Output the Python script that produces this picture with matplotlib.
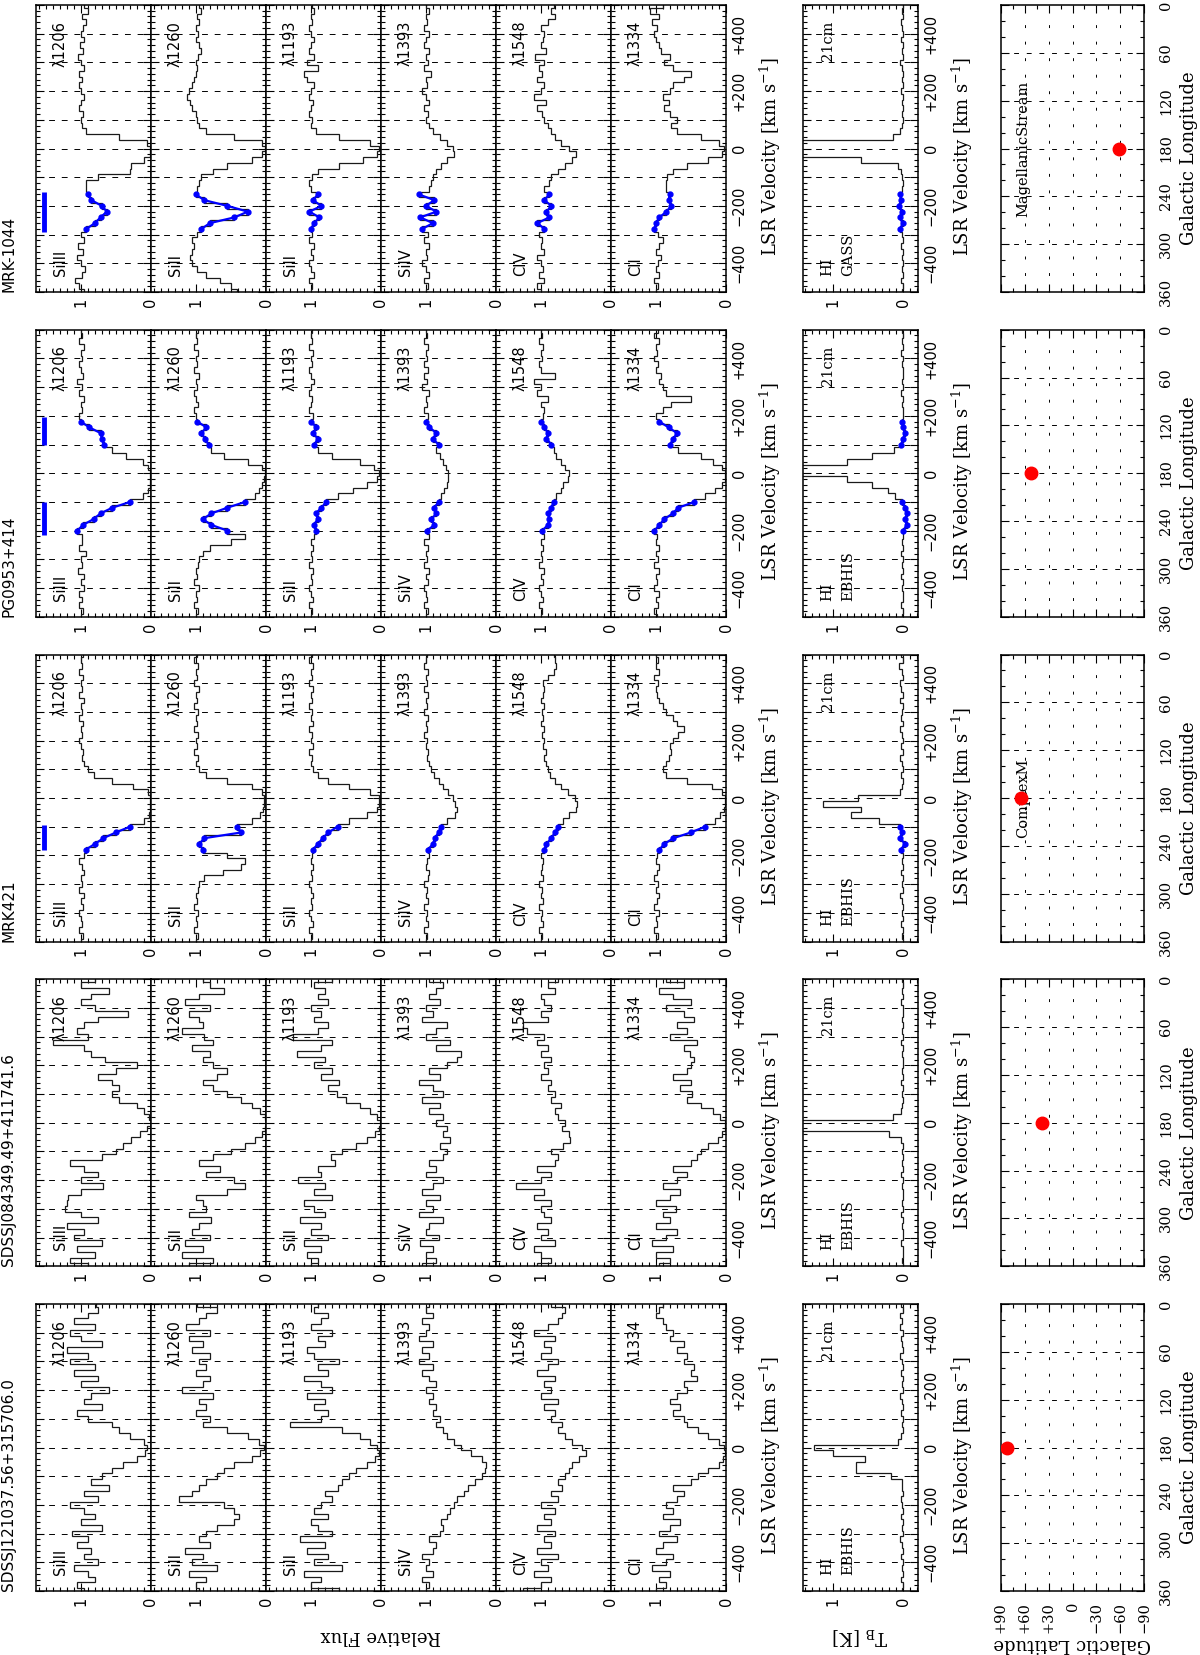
import numpy as np
import matplotlib
matplotlib.use("Agg")
import matplotlib.pyplot as plt
from matplotlib.ticker import MultipleLocator, FuncFormatter

# ---------------------------------------------------------------- data
QSO_NAMES = ["SDSSJ121037.56+315706.0", "SDSSJ084349.49+411741.6",
             "MRK421", "PG0953+414", "MRK-1044"]
GAL_LAT = [82, 38, 65, 52, -59]
GAL_LON = [180, 180, 180, 180, 180]
MAP_TEXT = ["", "", "ComplexM", "", "MagellanicStream"]
HI_SURVEY = ["EBHIS", "EBHIS", "EBHIS", "EBHIS", "GASS"]
ION_NAMES = ["SiIII", "SiII", "SiII", "SiIV", "CIV", "CII"]
ION_WAVES = ["λ1206", "λ1260", "λ1193", "λ1393", "λ1548", "λ1334"]
HVC_RANGES = [[], [], [(-180, -95)], [(100, 195), (-215, -100)], [(-290, -150)]]

VEL = [-500, -480, -460, -440, -420, -400, -380, -360, -340, -320,
       -300, -280, -260, -240, -220, -200, -180, -160, -140, -120,
       -100, -80, -60, -40, -20, 0, 20, 40, 60, 80,
       100, 120, 140, 160, 180, 200, 220, 240, 260, 280,
       300, 320, 340, 360, 380, 400, 420, 440, 460, 480, 500]

# ---- SDSSJ121037.56+315706.0
S1210_SIIII = [0.95, 1.05, 0.80, 0.90, 1.10, 0.75, 0.95, 0.85, 1.05, 0.90,
               1.12, 0.70, 1.00, 0.80, 0.95, 1.15, 0.75, 0.95, 0.60, 0.85,
               0.70, 0.55, 0.40, 0.20, 0.08, 0.05, 0.10, 0.30, 0.45, 0.55,
               0.90, 1.05, 0.70, 0.95, 0.85, 0.60, 1.00, 0.75, 1.10, 0.80,
               1.15, 0.90, 1.20, 0.70, 1.00, 1.15, 0.80, 1.10, 0.90, 0.75, 0.78]
S1210_SIII60 = [0.95, 1.00, 0.85, 1.10, 0.70, 1.05, 0.90, 1.15, 0.80, 0.95,
                0.85, 0.70, 0.45, 0.38, 0.45, 0.60, 1.24, 1.05, 0.95, 0.85,
                0.70, 0.60, 0.45, 0.20, 0.08, 0.03, 0.10, 0.25, 0.55, 0.90,
                0.80, 1.00, 0.85, 0.95, 0.75, 1.20, 0.90, 0.80, 1.00, 0.85,
                0.95, 0.80, 1.05, 0.90, 1.10, 0.80, 1.14, 0.95, 0.85, 0.70, 0.98]
S1210_SIII93 = [0.60, 1.00, 0.85, 1.10, 0.55, 0.95, 0.75, 1.05, 0.80, 1.15,
                0.70, 0.90, 1.00, 0.75, 0.95, 0.85, 0.70, 0.80, 0.62, 0.55,
                0.45, 0.35, 0.20, 0.08, 0.03, 0.05, 0.15, 0.30, 0.55, 1.30,
                0.85, 0.75, 0.95, 0.80, 1.05, 0.70, 0.85, 1.10, 0.75, 0.90,
                0.60, 0.95, 1.05, 0.80, 0.90, 0.70, 1.00, 0.85, 0.75, 0.95, 0.90]
S1210_SIIV = [1.00, 0.95, 1.05, 0.90, 1.00, 0.95, 1.05, 0.90, 0.85, 0.95,
              0.80, 0.75, 0.78, 0.70, 0.65, 0.60, 0.55, 0.45, 0.40, 0.30,
              0.20, 0.15, 0.14, 0.20, 0.35, 0.50, 0.60, 0.70, 0.75, 0.85,
              0.80, 0.90, 0.85, 0.95, 0.90, 1.00, 0.85, 0.95, 1.05, 0.90,
              1.10, 0.95, 1.05, 0.90, 1.10, 1.00, 0.95, 1.05, 0.90, 1.00, 0.95]
S1210_CIV = [1.25, 1.00, 0.85, 1.10, 0.90, 1.00, 0.75, 1.05, 0.85, 0.95,
             0.80, 1.05, 0.85, 0.95, 0.80, 1.00, 0.75, 0.85, 0.70, 0.75,
             0.65, 0.60, 0.55, 0.45, 0.36, 0.42, 0.55, 0.65, 0.75, 0.70,
             0.85, 0.80, 0.95, 0.75, 1.00, 0.85, 0.95, 0.80, 1.05, 0.90,
             0.75, 1.00, 0.85, 0.95, 0.80, 1.10, 0.90, 0.75, 0.70, 0.65, 0.85]
S1210_CII = [1.00, 0.85, 0.95, 0.80, 1.05, 0.85, 0.75, 1.00, 0.90, 0.70,
             0.95, 0.80, 0.65, 0.90, 0.75, 0.85, 0.70, 0.60, 0.75, 0.50,
             0.40, 0.25, 0.10, 0.04, 0.02, 0.03, 0.10, 0.25, 0.40, 0.55,
             0.60, 0.75, 0.65, 0.80, 0.70, 0.55, 0.60, 0.42, 0.50, 0.45,
             0.60, 0.55, 0.70, 0.60, 0.80, 0.75, 0.85, 0.90, 1.00, 0.95, 0.90]
S1210_HI = [0.02, 0.00, 0.03, 0.01, 0.02, 0.00, 0.03, 0.01, 0.02, 0.04,
            0.00, 0.02, 0.01, 0.03, 0.00, 0.02, 0.03, 0.01, 0.02, 0.02,
            0.17, 0.67, 0.67, 0.55, 1.00, 1.28, 0.08, 0.03, 0.01, 0.02,
            0.00, 0.03, 0.01, 0.02, 0.04, 0.01, 0.02, 0.00, 0.03, 0.01,
            0.02, 0.04, 0.00, 0.02, 0.03, 0.01, 0.04, 0.02, 0.05, 0.01, 0.03]

# ---- SDSSJ084349.49+411741.6
S0843_SIIII = [0.90, 1.15, 0.80, 1.05, 0.70, 1.10, 0.95, 1.20, 0.75, 1.00,
               1.22, 1.20, 1.18, 1.00, 0.68, 1.00, 0.75, 0.95, 1.15, 0.70,
               0.50, 0.40, 0.28, 0.15, 0.05, 0.00, 0.03, 0.10, 0.20, 0.45,
               0.55, 0.45, 0.55, 0.75, 0.50, 0.20, 0.65, 0.85, 0.95, 1.40,
               0.90, 1.05, 0.95, 0.75, 0.33, 0.80, 1.00, 0.85, 0.60, 1.00, 0.80]
S0843_SIII60 = [1.10, 0.75, 1.20, 0.90, 1.15, 0.80, 1.05, 0.95, 0.78, 1.10,
                0.85, 0.90, 1.00, 0.55, 0.30, 0.45, 0.85, 0.65, 0.95, 0.75,
                0.50, 0.30, 0.15, 0.05, 0.02, 0.00, 0.02, 0.08, 0.20, 0.35,
                0.55, 0.75, 0.90, 0.70, 0.55, 0.75, 0.90, 0.80, 1.05, 0.75,
                0.88, 1.20, 0.90, 0.95, 1.10, 0.80, 1.15, 0.95, 0.60, 0.80, 0.90]
S0843_SIII93 = [1.00, 0.90, 1.05, 0.85, 1.10, 0.75, 1.00, 0.85, 1.15, 0.80,
                0.95, 1.10, 0.70, 0.95, 0.80, 1.19, 0.85, 0.90, 0.65, 0.72,
                0.55, 0.35, 0.20, 0.08, 0.03, 0.02, 0.05, 0.15, 0.30, 0.50,
                0.63, 0.75, 0.60, 0.85, 0.70, 0.95, 0.80, 1.20, 0.85, 0.70,
                1.25, 0.90, 0.75, 0.95, 0.85, 1.00, 0.75, 0.90, 0.80, 0.95, 0.70]
S0843_SIIV = [1.05, 0.85, 1.00, 0.90, 1.08, 0.82, 1.00, 0.95, 0.75, 1.10,
              0.90, 1.00, 0.80, 1.05, 0.90, 0.75, 1.00, 0.85, 0.95, 0.75,
              0.70, 0.80, 0.65, 0.75, 0.70, 0.85, 0.75, 0.95, 0.80, 1.05,
              0.75, 0.90, 1.10, 0.80, 0.95, 0.70, 0.55, 0.50, 0.85, 0.65,
              1.00, 0.85, 0.70, 1.05, 0.90, 1.00, 0.80, 0.95, 0.85, 0.75, 0.95]
S0843_CIV = [1.05, 0.85, 1.00, 1.10, 0.80, 1.00, 0.90, 1.05, 0.85, 0.95,
             1.00, 0.85, 1.10, 0.95, 1.35, 1.00, 0.85, 1.05, 0.80, 0.75,
             0.85, 0.68, 0.58, 0.60, 0.70, 0.65, 0.75, 0.80, 0.72, 0.85,
             0.80, 0.90, 0.85, 1.00, 0.90, 0.95, 0.85, 1.00, 0.90, 1.05,
             0.95, 1.20, 1.25, 0.90, 1.00, 0.85, 0.95, 1.00, 0.80, 0.90, 0.75]
S0843_CII = [0.95, 0.80, 1.00, 0.75, 1.05, 0.85, 0.70, 1.00, 0.80, 0.90,
             0.72, 1.00, 0.80, 0.65, 0.90, 0.70, 0.55, 0.75, 0.50, 0.42,
             0.35, 0.25, 0.12, 0.05, 0.02, 0.02, 0.08, 0.18, 0.35, 0.55,
             0.48, 0.65, 0.50, 0.75, 0.55, 0.50, 0.45, 0.52, 0.60, 0.42,
             0.80, 0.55, 0.70, 0.45, 0.60, 0.85, 0.50, 0.75, 0.95, 0.60, 0.85]
S0843_HI = [0.01, 0.02, 0.00, 0.01, 0.03, 0.01, 0.00, 0.02, 0.01, 0.03,
            0.00, 0.02, 0.01, 0.00, 0.02, 0.01, 0.03, 0.00, 0.02, 0.01,
            0.02, 0.01, 0.03, 0.20, 1.60, 1.60, 0.15, 0.03, 0.02, 0.00,
            0.02, 0.01, 0.03, 0.00, 0.02, 0.01, 0.00, 0.02, 0.01, 0.03,
            0.00, 0.02, 0.01, 0.02, 0.00, 0.01, 0.03, 0.00, 0.02, 0.01, 0.02]

# ---- MRK421
M421_SIIII = [1.00, 0.97, 1.02, 0.98, 1.00, 1.03, 0.97, 1.00, 0.95, 1.02,
              0.98, 1.00, 0.96, 0.98, 1.02, 0.95, 0.93, 0.80, 0.68, 0.50,
              0.30, 0.10, 0.03, 0.02, 0.02, 0.02, 0.04, 0.25, 0.55, 0.82,
              0.90, 0.95, 0.98, 0.97, 1.00, 1.02, 0.98, 1.00, 0.97, 1.02,
              0.98, 1.00, 0.96, 1.03, 0.98, 1.00, 0.97, 1.02, 0.98, 1.00, 0.97]
M421_SIII60 = [1.00, 0.97, 1.02, 0.98, 1.00, 0.97, 1.02, 0.98, 1.00, 0.97,
               0.95, 0.88, 0.62, 0.35, 0.30, 0.55, 0.90, 0.95, 0.88, 0.35,
               0.42, 0.20, 0.08, 0.04, 0.03, 0.03, 0.05, 0.20, 0.55, 0.85,
               0.95, 1.00, 0.97, 1.02, 0.98, 1.00, 0.97, 1.03, 0.98, 1.00,
               0.97, 1.02, 0.98, 1.00, 0.96, 1.02, 0.98, 1.00, 0.97, 1.02, 0.98]
M421_SIII93 = [1.00, 0.98, 1.02, 0.97, 1.00, 1.02, 0.98, 1.00, 0.97, 1.00,
               1.02, 0.98, 1.00, 0.97, 1.00, 0.98, 0.97, 0.90, 0.83, 0.75,
               0.62, 0.45, 0.20, 0.06, 0.03, 0.03, 0.15, 0.45, 0.75, 0.90,
               0.97, 1.00, 0.98, 1.02, 0.97, 1.00, 0.98, 1.02, 0.97, 1.00,
               0.98, 1.02, 0.98, 1.00, 0.97, 1.02, 0.98, 1.00, 0.97, 1.02, 0.98]
M421_SIIV = [1.00, 0.98, 1.02, 0.97, 1.00, 0.98, 1.02, 0.97, 1.00, 0.98,
             1.02, 0.97, 0.95, 1.00, 0.98, 0.95, 0.97, 0.90, 0.87, 0.82,
             0.78, 0.70, 0.58, 0.55, 0.58, 0.62, 0.68, 0.75, 0.82, 0.88,
             0.92, 0.95, 0.98, 0.97, 1.00, 0.98, 1.02, 0.98, 1.00, 0.97,
             1.02, 0.98, 1.00, 0.97, 1.02, 0.98, 1.00, 0.97, 1.02, 1.00, 0.98]
M421_CIV = [1.00, 0.98, 1.02, 0.97, 1.00, 0.98, 1.02, 0.97, 1.00, 0.98,
            1.02, 0.97, 1.00, 0.98, 0.97, 1.00, 0.95, 0.92, 0.85, 0.80,
            0.75, 0.68, 0.60, 0.50, 0.48, 0.52, 0.62, 0.72, 0.80, 0.87,
            0.90, 0.92, 0.95, 0.93, 0.97, 0.95, 0.98, 0.96, 1.00, 0.97,
            0.98, 0.95, 1.00, 0.97, 0.95, 0.97, 0.90, 0.82, 0.78, 0.80, 0.82]
M421_CII = [1.00, 0.97, 1.02, 0.98, 1.00, 0.96, 1.02, 0.98, 0.95, 1.00,
            0.97, 1.02, 0.98, 0.96, 1.00, 0.98, 0.95, 0.88, 0.75, 0.50,
            0.30, 0.15, 0.08, 0.03, 0.02, 0.01, 0.05, 0.20, 0.55, 0.85,
            0.90, 0.85, 0.82, 0.78, 0.80, 0.75, 0.68, 0.60, 0.70, 0.75,
            0.85, 0.90, 0.95, 0.98, 1.00, 0.97, 1.02, 0.95, 1.00, 0.97, 1.00]
M421_HI = [0.01, 0.02, 0.00, 0.03, 0.01, 0.02, 0.00, 0.02, 0.04, 0.01,
           0.02, 0.00, 0.03, 0.01, 0.02, 0.00, 0.03, -0.02, 0.04, 0.02,
           0.05, 0.35, 0.75, 0.60, 1.15, 0.65, 0.05, 0.02, 0.01, 0.03,
           0.00, 0.02, 0.04, 0.01, 0.03, 0.00, 0.02, 0.05, 0.01, 0.03,
           0.02, 0.00, 0.04, 0.01, 0.03, 0.05, 0.00, 0.02, 0.06, 0.01, 0.03]

# ---- PG0953+414
PG_SIIII = [1.00, 0.97, 1.03, 0.98, 1.02, 0.96, 1.00, 0.95, 1.04, 0.98,
            1.00, 0.93, 1.02, 0.98, 0.99, 1.05, 0.97, 0.82, 0.72, 0.55,
            0.30, 0.12, 0.04, 0.02, 0.01, 0.02, 0.04, 0.12, 0.35, 0.55,
            0.67, 0.70, 0.72, 0.88, 1.00, 1.03, 0.98, 1.00, 0.95, 1.02,
            0.98, 1.05, 0.97, 1.00, 1.03, 0.98, 1.00, 0.95, 1.02, 0.98, 1.00]
PG_SIII60 = [1.00, 0.97, 1.02, 0.98, 1.00, 0.95, 1.02, 0.98, 1.00, 0.97,
             0.95, 0.90, 0.80, 0.50, 0.30, 0.55, 0.78, 0.90, 0.78, 0.55,
             0.30, 0.15, 0.10, 0.05, 0.03, 0.02, 0.05, 0.25, 0.60, 0.78,
             0.82, 0.87, 0.92, 0.85, 0.98, 1.00, 1.02, 0.97, 1.00, 1.03,
             0.98, 1.00, 0.95, 1.02, 0.98, 1.00, 0.97, 1.03, 0.98, 1.00, 0.97]
PG_SIII93 = [1.00, 0.98, 1.02, 0.97, 1.00, 1.02, 0.98, 1.00, 0.97, 1.02,
             0.98, 1.00, 0.97, 1.00, 0.95, 0.92, 0.96, 0.90, 0.93, 0.85,
             0.78, 0.62, 0.40, 0.20, 0.06, 0.03, 0.10, 0.30, 0.70, 0.90,
             0.95, 0.90, 0.97, 0.92, 1.00, 0.97, 1.02, 1.00, 0.98, 1.02,
             1.00, 0.96, 1.00, 1.03, 0.98, 1.00, 0.97, 1.02, 0.98, 1.00, 0.98]
PG_SIIV = [1.00, 0.97, 1.02, 0.98, 1.00, 1.03, 0.97, 1.00, 0.96, 1.02,
           0.98, 1.00, 0.97, 1.02, 0.95, 0.98, 0.88, 0.92, 0.85, 0.88,
           0.82, 0.78, 0.74, 0.70, 0.68, 0.68, 0.72, 0.75, 0.80, 0.85,
           0.82, 0.90, 0.85, 0.95, 1.00, 0.97, 1.02, 0.98, 1.00, 0.95,
           1.05, 0.98, 1.02, 0.97, 1.03, 0.98, 1.00, 0.97, 1.02, 0.98, 1.00]
PG_CIV = [1.00, 0.98, 1.02, 0.97, 1.00, 1.03, 0.97, 1.00, 0.95, 1.02,
          0.98, 1.00, 0.97, 1.00, 0.95, 0.98, 0.90, 0.88, 0.90, 0.85,
          0.82, 0.78, 0.72, 0.68, 0.62, 0.60, 0.65, 0.72, 0.78, 0.82,
          0.85, 0.92, 0.90, 0.95, 1.00, 0.97, 0.95, 1.00, 0.90, 1.05,
          1.00, 1.10, 0.80, 1.00, 1.02, 0.98, 1.00, 0.97, 1.02, 0.98, 1.00]
PG_CII = [0.98, 1.02, 0.97, 1.00, 0.95, 1.03, 0.98, 1.00, 0.96, 1.02,
          0.97, 1.00, 0.95, 1.00, 0.98, 1.02, 0.95, 0.88, 0.76, 0.68,
          0.45, 0.30, 0.15, 0.06, 0.02, 0.01, 0.05, 0.18, 0.35, 0.68,
          0.80, 0.75, 0.70, 0.82, 0.95, 1.00, 0.90, 0.78, 0.50, 0.85,
          0.90, 0.95, 0.92, 1.00, 0.97, 1.02, 0.98, 1.00, 0.95, 1.02, 0.97]
PG_HI = [0.02, 0.00, 0.03, 0.01, 0.00, 0.02, 0.01, 0.03, 0.00, 0.02,
         0.01, 0.03, 0.00, 0.02, 0.01, 0.00, -0.05, -0.02, -0.06, -0.03,
         0.02, 0.12, 0.22, 0.45, 0.80, 1.60, 1.60, 0.80, 0.45, 0.13,
         0.03, 0.00, -0.02, 0.00, 0.02, 0.01, 0.00, 0.02, 0.01, 0.03,
         0.00, 0.02, 0.01, 0.00, 0.02, 0.01, 0.03, 0.00, 0.02, 0.01, 0.02]

# ---- MRK-1044
M1044_SIIII = [0.95, 1.02, 1.08, 0.98, 0.94, 1.00, 1.05, 0.97, 1.04, 0.96,
               1.00, 0.92, 0.80, 0.72, 0.63, 0.70, 0.85, 0.90, 0.93, 0.92,
               0.75, 0.30, 0.28, 0.10, 0.02, 0.01, 0.05, 0.45, 0.92, 0.98,
               1.00, 0.97, 1.02, 1.00, 0.96, 1.00, 1.03, 0.98, 1.02, 0.95,
               1.00, 1.04, 0.97, 1.01, 0.95, 1.00, 0.97, 0.93, 0.98, 0.90, 0.95]
M1044_SIII60 = [0.42, 0.50, 0.65, 0.85, 0.98, 1.05, 1.08, 1.05, 1.02, 1.05,
                0.98, 0.92, 0.80, 0.45, 0.26, 0.55, 0.88, 1.00, 0.98, 0.95,
                0.92, 0.75, 0.55, 0.20, 0.06, 0.02, 0.06, 0.45, 0.85, 0.95,
                0.98, 1.00, 1.05, 1.08, 1.12, 1.10, 1.05, 1.02, 1.00, 0.98,
                1.00, 0.97, 0.92, 0.95, 1.00, 0.97, 1.00, 0.95, 0.98, 0.93, 0.96]
M1044_SIII93 = [1.00, 0.98, 1.02, 0.95, 1.00, 1.03, 0.97, 1.00, 0.95, 1.02,
                0.98, 1.00, 0.95, 0.88, 1.02, 0.85, 0.97, 0.90, 1.00, 1.02,
                0.98, 0.90, 0.60, 0.25, 0.05, 0.03, 0.15, 0.60, 0.92, 1.00,
                0.98, 1.03, 1.00, 0.97, 1.02, 1.00, 0.95, 1.05, 1.10, 0.90,
                1.05, 0.95, 1.02, 1.00, 0.96, 1.00, 1.03, 0.98, 1.00, 0.95, 0.98]
M1044_SIIV = [1.00, 0.97, 1.02, 0.95, 1.00, 1.05, 0.98, 1.00, 0.96, 1.02,
              0.97, 1.05, 0.90, 1.08, 0.85, 1.00, 0.88, 1.10, 0.95, 0.92,
              0.90, 0.85, 0.78, 0.70, 0.60, 0.62, 0.70, 0.80, 0.90, 0.95,
              1.00, 0.97, 1.02, 0.95, 1.00, 1.05, 0.98, 1.00, 0.92, 1.03,
              0.97, 1.00, 0.95, 1.02, 1.00, 0.96, 1.03, 0.98, 1.00, 0.95, 1.00]
M1044_CIV = [1.00, 1.05, 0.95, 1.02, 0.97, 1.00, 1.05, 0.95, 1.00, 0.98,
             1.02, 0.95, 1.05, 0.88, 0.92, 0.85, 0.95, 0.88, 0.95, 0.88,
             0.85, 0.75, 0.65, 0.55, 0.50, 0.60, 0.72, 0.80, 0.85, 0.90,
             0.95, 0.98, 1.05, 0.92, 1.10, 1.00, 0.95, 1.05, 0.98, 1.02,
             0.95, 1.08, 0.92, 1.00, 0.97, 0.95, 1.00, 0.90, 0.80, 0.85, 0.82]
M1044_CII = [1.00, 0.97, 1.03, 0.95, 1.00, 0.97, 0.92, 1.00, 0.95, 0.90,
             0.97, 1.02, 1.00, 0.95, 0.85, 0.78, 0.82, 0.80, 0.85, 0.86,
             0.84, 0.75, 0.55, 0.25, 0.06, 0.03, 0.10, 0.35, 0.70, 0.78,
             0.70, 0.80, 0.88, 0.82, 0.90, 0.80, 0.75, 0.60, 0.50, 0.75,
             0.88, 0.80, 0.92, 0.95, 1.00, 1.03, 0.98, 1.05, 0.95, 1.08, 0.90]
M1044_HI = [0.02, 0.00, 0.03, 0.01, 0.02, 0.00, 0.02, 0.01, 0.03, 0.00,
            0.02, 0.04, 0.01, 0.05, 0.02, 0.06, 0.03, 0.05, 0.02, 0.01,
            0.02, 0.03, 0.08, 0.60, 1.60, 1.60, 1.60, 0.15, 0.04, 0.02,
            0.01, 0.02, 0.00, 0.02, 0.01, 0.03, 0.00, 0.02, 0.01, 0.02,
            0.04, 0.01, 0.02, 0.00, 0.03, 0.01, 0.02, 0.03, 0.00, 0.02, 0.01]

SPECTRA = [
    [S1210_SIIII, S1210_SIII60, S1210_SIII93, S1210_SIIV, S1210_CIV, S1210_CII],
    [S0843_SIIII, S0843_SIII60, S0843_SIII93, S0843_SIIV, S0843_CIV, S0843_CII],
    [M421_SIIII, M421_SIII60, M421_SIII93, M421_SIIV, M421_CIV, M421_CII],
    [PG_SIIII, PG_SIII60, PG_SIII93, PG_SIIV, PG_CIV, PG_CII],
    [M1044_SIIII, M1044_SIII60, M1044_SIII93, M1044_SIIV, M1044_CIV, M1044_CII],
]
HI_SPECTRA = [S1210_HI, S0843_HI, M421_HI, PG_HI, M1044_HI]

# ---------------------------------------------------------------- layout
W, H = 1200, 1655
STRIP_H = 287
STRIP_TOP = [1304, 979.25, 654.5, 329.75, 5]
SPEC_X0, SPEC_W = 36, 115
HI_X0, HI_W = 803, 115
MAP_X0, MAP_W = 1001, 143

SANS = ["DejaVu Sans"]
SERIF = ["DejaVu Serif"]
plt.rcParams["font.family"] = SANS
plt.rcParams["mathtext.fontset"] = "dejavuserif"
plt.rcParams["axes.linewidth"] = 1.1

fig = plt.figure(figsize=(W / 100, H / 100), dpi=100)


def fx(x):
    return x / W


def fy(y):
    return 1 - y / H


def new_axes(x0, w, top):
    return fig.add_axes([fx(x0), fy(top + STRIP_H), w / W, STRIP_H / H])


def vel_fmt(v, pos):
    v = int(round(v))
    if v % 200 != 0:
        return ""
    if v == 0:
        return "0"
    return ("+%d" % v) if v > 0 else ("\u2212%d" % -v)


def style_vel_axes(ax, show_vlabels):
    ax.set_ylim(-500, 500)
    ax.yaxis.set_major_locator(MultipleLocator(100))
    ax.yaxis.set_minor_locator(MultipleLocator(20))
    ax.yaxis.set_major_formatter(FuncFormatter(vel_fmt))
    ax.xaxis.set_minor_locator(MultipleLocator(0.1))
    ax.tick_params(which="both", direction="in", top=True, bottom=True,
                   left=True, right=True, width=0.8, color="k")
    ax.tick_params(which="major", length=6)
    ax.tick_params(which="minor", length=3)
    ax.tick_params(axis="x", labelrotation=90, labelsize=10.5, pad=4)
    ax.tick_params(axis="y", labelleft=False, labelright=show_vlabels,
                   labelrotation=90, labelsize=10.5, pad=4)
    for lab in ax.get_yticklabels():
        lab.set_va("center")
    for v in np.arange(-400, 401, 100):
        ax.axhline(v, color="k", lw=0.7, ls=(0, (6, 7)), zorder=1)


vel = np.array(VEL, dtype=float)
edges = np.concatenate([[vel[0] - 10], vel + 10])

for i, name in enumerate(QSO_NAMES):
    top = STRIP_TOP[i]
    # ---- absorption spectra
    for k in range(6):
        ax = new_axes(SPEC_X0 + k * SPEC_W, SPEC_W, top)
        flux = np.array(SPECTRA[i][k])
        ax.set_xlim(1.64, 0)
        ax.set_xticks([0, 1], labels=["0", "1"])
        style_vel_axes(ax, show_vlabels=(k == 5))
        ax.stairs(flux, edges, orientation="horizontal", baseline=None,
                  color="#1a1a1a", lw=0.9, zorder=2)
        for (lo, hi) in HVC_RANGES[i]:
            m = (vel >= lo) & (vel <= hi)
            ax.plot(flux[m], vel[m], "-o", color="blue", lw=1.6, ms=3.5,
                    zorder=3)
            if k == 0:
                ax.plot([1.52, 1.52], [lo, hi], color="blue", lw=3.5,
                        solid_capstyle="butt", zorder=3)
        ax.text(1.29, -445, ION_NAMES[k], rotation=90, ha="center",
                va="bottom", fontsize=10.5)
        ax.text(1.29, 445, ION_WAVES[k], rotation=90, ha="center",
                va="top", fontsize=10.5)
    # ---- HI 21cm
    ax = new_axes(HI_X0, HI_W, top)
    tb = np.array(HI_SPECTRA[i])
    ax.set_xlim(1.43, -0.21)
    ax.set_xticks([0, 1], labels=["0", "1"])
    style_vel_axes(ax, show_vlabels=True)
    ax.stairs(tb, edges, orientation="horizontal", baseline=None,
              color="#1a1a1a", lw=0.9, zorder=2)
    for (lo, hi) in HVC_RANGES[i]:
        m = (vel >= lo) & (vel <= hi)
        ax.plot(tb[m], vel[m], "-o", color="blue", lw=1.6, ms=3.5, zorder=3)
    ax.text(1.08, -445, "HI", rotation=90, ha="center", va="bottom",
            fontsize=10.5, family=SERIF)
    ax.text(0.78, -445, HI_SURVEY[i], rotation=90, ha="center", va="bottom",
            fontsize=10.5, family=SERIF)
    ax.text(1.08, 445, "21cm", rotation=90, ha="center", va="top",
            fontsize=10.5, family=SERIF)
    # ---- sky position
    ax = new_axes(MAP_X0, MAP_W, top)
    ax.set_xlim(90, -90)
    ax.set_ylim(360, 0)
    ax.xaxis.set_major_locator(MultipleLocator(30))
    ax.xaxis.set_minor_locator(MultipleLocator(15))
    ax.yaxis.set_major_locator(MultipleLocator(60))
    ax.yaxis.set_minor_locator(MultipleLocator(20))
    ax.tick_params(which="both", direction="in", top=True, bottom=True,
                   left=True, right=True, width=0.8)
    ax.tick_params(which="major", length=6)
    ax.tick_params(which="minor", length=3)
    ax.tick_params(axis="y", labelleft=False, labelright=True,
                   labelrotation=90, labelsize=10.5, pad=11)
    ax.tick_params(axis="x", labelbottom=(i == 0), labelrotation=90,
                   labelsize=10.5, pad=8)
    ax.xaxis.set_major_formatter(FuncFormatter(
        lambda v, p: "0" if round(v) == 0 else
        (("+%d" % v) if v > 0 else "\u2212%d" % -v)))
    for lab in ax.get_xticklabels() + ax.get_yticklabels():
        lab.set_fontfamily(SERIF)
    for lab in ax.get_yticklabels():
        lab.set_va("center")
    for lon in np.arange(60, 301, 60):
        ax.axhline(lon, color="k", lw=0.7, ls=(0, (5, 8)), zorder=1)
    for lat in np.arange(-60, 61, 30):
        ax.axvline(lat, color="k", lw=0.7, ls=(0, (3, 14)), zorder=1)
    ax.plot(GAL_LAT[i], GAL_LON[i], "o", color="red", ms=9, zorder=4)
    if MAP_TEXT[i]:
        ax.text(62, 180, MAP_TEXT[i], rotation=90, ha="center", va="center",
                fontsize=10.5, family=SERIF, zorder=3)
    # ---- strip annotations
    cy = top + STRIP_H / 2
    fig.text(fx(9), fy(top + STRIP_H), name, rotation=90, ha="center",
             va="bottom", fontsize=11)
    fig.text(fx(770), fy(cy + 8), r"LSR Velocity [km s$^{-1}$]", rotation=90,
             ha="center", va="center", fontsize=13, family=SERIF)
    fig.text(fx(962), fy(cy + 8), r"LSR Velocity [km s$^{-1}$]", rotation=90,
             ha="center", va="center", fontsize=13, family=SERIF)
    fig.text(fx(1189), fy(cy + 10), "Galactic Longitude", rotation=90,
             ha="center", va="center", fontsize=13, family=SERIF)

fig.text(fx(381), fy(1636), "Relative Flux", rotation=180, ha="center",
         va="center", fontsize=13, family=SERIF)
fig.text(fx(860), fy(1636), r"T$_{\rm B}$ [K]", rotation=180, ha="center",
         va="center", fontsize=13, family=SERIF)
fig.text(fx(1072), fy(1644), "Galactic Latitude", rotation=180, ha="center",
         va="center", fontsize=13, family=SERIF)

fig.savefig("out.png", dpi=100, facecolor="white")
